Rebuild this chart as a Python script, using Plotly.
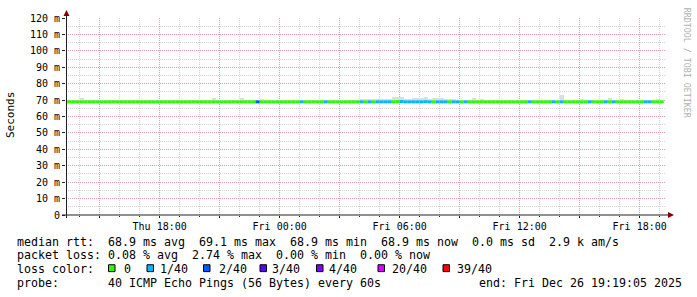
import plotly.graph_objects as go
import pandas as pd

# ---------------- data ----------------
RANGE_START = "2025-12-25 13:19:05"
RANGE_END = "2025-12-26 19:19:05"
BIN_START = "2025-12-25 13:12:00"   # first 12-minute consolidation bin
BIN_MINUTES = 12

median_ms = [
    68.9, 68.9, 68.9, 68.9, 68.9, 68.9, 68.9, 68.9, 68.9, 68.9,
    68.9, 68.9, 68.9, 68.9, 68.9, 68.9, 68.9, 68.9, 68.9, 68.9,
    68.9, 68.9, 68.9, 68.9, 68.9, 68.9, 68.9, 68.9, 68.9, 68.9,
    68.9, 68.9, 68.9, 68.9, 68.9, 68.9, 68.9, 68.9, 68.9, 68.9,
    68.9, 68.9, 68.9, 68.9, 68.9, 68.9, 68.9, 68.9, 68.9, 68.9,
    68.9, 68.9, 68.9, 68.9, 68.9, 68.9, 68.9, 68.9, 68.9, 68.9,
    68.9, 68.9, 68.9, 68.9, 68.9, 68.9, 68.9, 68.9, 68.9, 68.9,
    68.9, 68.9, 68.9, 68.9, 68.9, 68.9, 68.9, 68.9, 68.9, 68.9,
    68.9, 68.9, 69.0, 69.1, 69.1, 68.9, 68.9, 68.9, 68.9, 68.9,
    69.0, 68.9, 68.9, 68.9, 68.9, 68.9, 68.9, 68.9, 68.9, 68.9,
    68.9, 68.9, 68.9, 68.9, 68.9, 68.9, 68.9, 68.9, 68.9, 68.9,
    68.9, 68.9, 68.9, 68.9, 68.9, 68.9, 68.9, 68.9, 68.9, 68.9,
    68.9, 68.9, 68.9, 68.9, 68.9, 68.9, 68.9, 68.9, 68.9, 68.9,
    68.9, 68.9, 68.9, 68.9, 68.9, 68.9, 68.9, 68.9, 68.9, 68.9,
    68.9, 68.9, 68.9, 68.9, 68.9, 68.9, 68.9, 68.9, 68.9, 68.9,
]

smoke_lo_ms = [
    68.5, 68.5, 68.5, 68.5, 68.5, 68.5, 68.5, 68.5, 68.5, 68.5,
    68.5, 68.5, 68.5, 68.5, 68.5, 68.5, 68.5, 68.5, 68.5, 68.5,
    68.5, 68.5, 68.5, 68.5, 68.5, 68.5, 68.5, 68.5, 68.5, 68.5,
    68.5, 68.5, 68.5, 68.5, 68.5, 68.5, 68.5, 68.5, 68.5, 68.5,
    68.5, 68.5, 68.5, 68.5, 68.5, 68.5, 68.5, 68.5, 68.5, 68.5,
    68.5, 68.5, 68.5, 68.5, 68.5, 68.5, 68.5, 68.5, 68.5, 68.5,
    68.5, 68.5, 68.5, 68.5, 68.5, 68.5, 68.5, 68.5, 68.5, 68.5,
    68.5, 68.5, 68.5, 68.5, 68.5, 68.5, 68.5, 68.5, 68.5, 68.5,
    68.5, 68.5, 68.5, 68.5, 68.5, 68.5, 68.5, 68.5, 68.5, 68.5,
    68.5, 68.5, 68.5, 68.5, 68.5, 68.5, 68.5, 68.5, 68.5, 68.5,
    68.5, 68.5, 68.5, 68.5, 68.5, 68.5, 68.5, 68.5, 68.5, 68.5,
    68.5, 68.5, 68.5, 68.5, 68.5, 68.5, 68.5, 68.5, 68.5, 68.5,
    68.5, 68.5, 68.5, 68.5, 68.5, 68.5, 68.5, 68.5, 68.5, 68.5,
    68.5, 68.5, 68.5, 68.5, 68.5, 68.5, 68.5, 68.5, 68.5, 68.5,
    68.5, 68.5, 68.5, 68.5, 68.5, 68.5, 68.5, 68.5, 68.5, 68.5,
]

smoke_hi_ms = [
    70.0, 70.3, 70.0, 70.0, 71.4, 70.0, 70.0, 70.0, 70.1, 70.0,
    70.0, 70.0, 70.1, 70.0, 70.3, 70.0, 70.0, 70.1, 70.0, 70.0,
    70.3, 70.0, 70.0, 70.0, 70.1, 70.0, 70.0, 70.0, 70.0, 70.1,
    70.0, 70.0, 70.1, 70.0, 70.0, 70.0, 70.0, 71.0, 70.0, 70.0,
    70.0, 70.0, 70.1, 70.0, 71.4, 70.0, 70.0, 70.0, 70.2, 70.8,
    70.0, 70.0, 70.0, 70.2, 70.0, 70.0, 70.0, 70.0, 70.0, 70.1,
    70.0, 70.0, 70.0, 70.0, 70.1, 70.0, 70.0, 70.0, 70.0, 70.0,
    70.0, 70.0, 70.0, 70.0, 70.4, 70.4, 70.4, 70.4, 70.8, 70.8,
    70.8, 70.8, 72.0, 72.0, 72.0, 70.8, 70.8, 71.0, 71.4, 71.4,
    72.0, 70.8, 71.4, 71.4, 71.4, 70.8, 70.8, 70.8, 70.2, 70.2,
    70.2, 70.2, 71.4, 70.2, 70.8, 70.2, 70.0, 70.0, 70.0, 70.0,
    70.0, 70.0, 70.1, 70.0, 70.0, 70.0, 70.1, 70.0, 70.0, 70.0,
    70.0, 70.0, 70.1, 70.0, 73.2, 70.0, 70.0, 70.0, 70.0, 70.8,
    70.0, 70.0, 70.0, 70.0, 70.1, 70.0, 71.4, 70.0, 70.0, 70.8,
    70.0, 70.0, 70.0, 70.0, 70.1, 70.0, 70.0, 70.0, 70.8, 70.0,
]

loss_pings = [
    0, 0, 0, 0, 0, 0, 0, 0, 0, 0,
    0, 0, 0, 0, 0, 0, 0, 0, 0, 0,
    0, 0, 0, 0, 0, 0, 0, 0, 0, 0,
    0, 0, 0, 0, 0, 0, 0, 0, 0, 0,
    0, 0, 0, 0, 0, 0, 0, 0, 2, 0,
    0, 0, 0, 0, 0, 0, 0, 0, 0, 1,
    0, 0, 0, 0, 0, 1, 0, 0, 0, 0,
    0, 0, 0, 0, 1, 0, 1, 0, 1, 1,
    1, 1, 0, 0, 1, 1, 1, 1, 1, 1,
    1, 1, 0, 1, 1, 1, 0, 1, 1, 0,
    1, 0, 0, 0, 0, 0, 0, 0, 0, 0,
    0, 0, 0, 0, 0, 0, 1, 0, 0, 0,
    0, 0, 1, 0, 1, 0, 0, 0, 0, 0,
    0, 1, 0, 0, 0, 1, 0, 1, 0, 0,
    0, 0, 0, 0, 0, 1, 1, 0, 0, 0,
]

loss_levels = [0, 1, 2, 3, 4, 20, 39]
loss_labels = ["0", "1/40", "2/40", "3/40", "4/40", "20/40", "39/40"]
loss_colors = ["#26ff00", "#00b8ff", "#0059ff", "#5e00ff", "#7e00ff", "#dd00ff", "#ff0000"]

y_tick_vals = [0, 10, 20, 30, 40, 50, 60, 70, 80, 90, 100, 110, 120]
y_tick_text = ["0", "10 m", "20 m", "30 m", "40 m", "50 m", "60 m", "70 m",
               "80 m", "90 m", "100 m", "110 m", "120 m"]

x_tick_vals = ["2025-12-25 15:00", "2025-12-25 18:00", "2025-12-25 21:00",
               "2025-12-26 00:00", "2025-12-26 03:00", "2025-12-26 06:00",
               "2025-12-26 09:00", "2025-12-26 12:00", "2025-12-26 15:00",
               "2025-12-26 18:00"]
x_tick_text = ["", "Thu 18:00", "", "Fri 00:00", "", "Fri 06:00", "",
               "Fri 12:00", "", "Fri 18:00"]

legend_lines = [
    "median rtt:  68.9 ms avg  69.1 ms max  68.9 ms min  68.9 ms now  0.0 ms sd  2.9 k am/s",
    "packet loss: 0.08 % avg  2.74 % max  0.00 % min  0.00 % now",
    "loss color:",
    "probe:       40 ICMP Echo Pings (56 Bytes) every 60s              end: Fri Dec 26 19:19:05 2025",
]

# ---------------- geometry helpers ----------------
W, H = 697, 297
ML, MR, MT, MB = 66, 31, 15, 82
PW, PH = W - ML - MR, H - MT - MB


def px(x):
    return (x - ML) / PW


def py(y):
    return (MT + PH - y) / PH


MONO = "DejaVu Sans Mono"
mono_size = 11.63

n = len(median_ms)
bin_starts = pd.date_range(BIN_START, periods=n, freq=f"{BIN_MINUTES}min")
bin_ends = bin_starts + pd.Timedelta(minutes=BIN_MINUTES)
bin_mid = bin_starts + pd.Timedelta(minutes=BIN_MINUTES / 2)
bin_ms = BIN_MINUTES * 60 * 1000


def loss_color_index(v):
    idx = 0
    for k, lv in enumerate(loss_levels):
        if v >= lv:
            idx = k
    return idx


fig = go.Figure()

# smoke
fig.add_trace(go.Bar(
    x=bin_mid, y=[h - l for h, l in zip(smoke_hi_ms, smoke_lo_ms)], base=smoke_lo_ms,
    width=bin_ms, marker=dict(color="#dddddd", line=dict(width=0)),
    hoverinfo="skip", showlegend=False,
))

# median line, coloured by loss
for ci, col in enumerate(loss_colors):
    xs, ys = [], []
    for i in range(n):
        if loss_color_index(loss_pings[i]) == ci:
            xs += [bin_starts[i], bin_ends[i], None]
            ys += [median_ms[i], median_ms[i], None]
    if xs:
        fig.add_trace(go.Scatter(
            x=xs, y=ys, mode="lines", line=dict(color=col, width=3),
            hoverinfo="skip", showlegend=False,
        ))

grid_minor = "rgba(143,143,143,0.4)"
grid_major = "rgba(222,79,79,0.38)"

fig.update_layout(
    width=W, height=H,
    margin=dict(l=ML, r=MR, t=MT, b=MB),
    paper_bgcolor="white", plot_bgcolor="white",
    bargap=0, showlegend=False,
    font=dict(family=MONO, size=10, color="black"),
    xaxis=dict(
        type="date", range=[RANGE_START, RANGE_END],
        tickmode="array", tickvals=x_tick_vals, ticktext=x_tick_text,
        showgrid=True, gridcolor=grid_major, griddash="1px,1px", gridwidth=1,
        ticks="outside", ticklen=2, tickcolor="#212121", tickwidth=1,
        tickfont=dict(family=MONO, size=10, color="black"),
        minor=dict(dtick=3600000, tick0="2025-12-25 00:00", showgrid=True,
                   gridcolor=grid_minor, griddash="1px,1px", gridwidth=1,
                   ticks="outside", ticklen=1, tickcolor="#212121"),
        showline=False, zeroline=False, fixedrange=True,
    ),
    yaxis=dict(
        range=[0, 120],
        tickmode="array", tickvals=y_tick_vals, ticktext=y_tick_text,
        showgrid=True, gridcolor=grid_major, griddash="1px,1px", gridwidth=1,
        ticks="outside", ticklen=3, tickcolor="#212121", tickwidth=1,
        tickfont=dict(family=MONO, size=10, color="black"),
        minor=dict(dtick=5, tick0=0, showgrid=True,
                   gridcolor=grid_minor, griddash="1px,1px", gridwidth=1),
        showline=False, zeroline=False, fixedrange=True,
    ),
)

shapes = []
# axis lines
shapes.append(dict(type="line", xref="paper", yref="paper",
                   x0=px(62), x1=px(668), y0=py(215), y1=py(215),
                   line=dict(color="#212121", width=1)))
shapes.append(dict(type="line", xref="paper", yref="paper",
                   x0=px(66.5), x1=px(66.5), y0=py(218), y1=py(12),
                   line=dict(color="#212121", width=1)))
# arrows
shapes.append(dict(type="path", xref="paper", yref="paper",
                   path=f"M {px(63.5)} {py(13)} L {px(69.5)} {py(13)} L {px(66.5)} {py(7)} Z",
                   fillcolor="#800000", line=dict(width=0)))
shapes.append(dict(type="path", xref="paper", yref="paper",
                   path=f"M {px(668)} {py(212)} L {px(668)} {py(218)} L {px(674)} {py(215)} Z",
                   fillcolor="#800000", line=dict(width=0)))

annotations = []


def nb(s):
    return s.replace(" ", "\u00a0")


line_y = [242, 256, 270, 284]
for txt, yy in zip(legend_lines, line_y):
    annotations.append(dict(text=nb(txt), x=px(15), y=py(yy), xref="paper", yref="paper",
                            xanchor="left", yanchor="middle", showarrow=False,
                            font=dict(family=MONO, size=mono_size, color="black")))

box_x = [108.5, 147, 203.5, 260, 316.5, 378, 443]
label_x = [122.5, 158.5, 217.5, 271, 327.5, 391, 456]
for bx, lx, col, lab in zip(box_x, label_x, loss_colors, loss_labels):
    shapes.append(dict(type="rect", xref="paper", yref="paper",
                       x0=px(bx), x1=px(bx + 6.5), y0=py(272.5), y1=py(265.5),
                       fillcolor=col, line=dict(color="black", width=1)))
    annotations.append(dict(text=nb(lab), x=px(lx - 1), y=py(270), xref="paper", yref="paper",
                            xanchor="left", yanchor="middle", showarrow=False,
                            font=dict(family=MONO, size=mono_size, color="black")))

# y-axis title
annotations.append(dict(text="Seconds", x=px(10), y=py(113.5), xref="paper", yref="paper",
                        xanchor="center", yanchor="middle", textangle=-90, showarrow=False,
                        font=dict(family=MONO, size=11, color="black")))
# watermark
annotations.append(dict(text=nb("RRDTOOL / TOBI OETIKER"), x=px(686.5), y=py(60),
                        xref="paper", yref="paper", xanchor="center", yanchor="middle",
                        textangle=90, showarrow=False,
                        font=dict(family=MONO, size=8.3, color="#b0b0b0")))

fig.update_layout(shapes=shapes, annotations=annotations)
fig.write_html("out.html")
